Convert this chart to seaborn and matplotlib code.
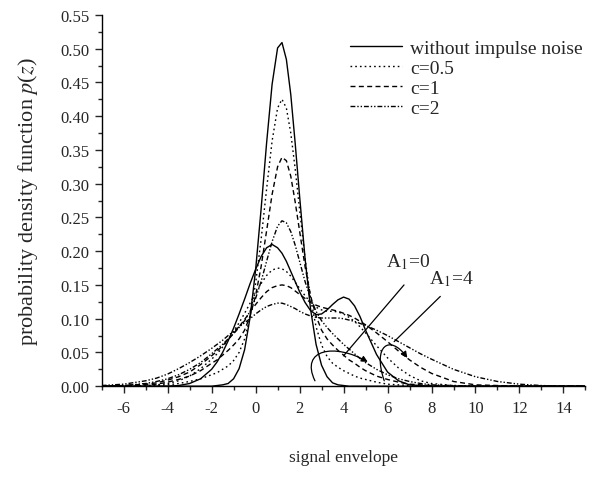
import matplotlib
matplotlib.use("Agg")
import matplotlib.pyplot as plt
import matplotlib.ticker as mticker
from matplotlib.patches import FancyArrowPatch
from matplotlib.path import Path
import seaborn as sns

sns.set_style("ticks")
plt.rcParams["font.family"] = ["Liberation Serif", "DejaVu Serif"]
plt.rcParams["mathtext.fontset"] = "stix"
plt.rcParams["axes.unicode_minus"] = False

# signal envelope grid
z = [-7, -6, -5, -4.5, -4, -3.5, -3, -2.5, -2, -1.75, -1.5, -1.25, -1, -0.75,
     -0.5, -0.25, 0, 0.25, 0.5, 0.75, 1, 1.2, 1.4, 1.6, 1.8, 2, 2.25, 2.5,
     2.75, 3, 3.25, 3.5, 3.75, 4, 4.25, 4.5, 4.75, 5, 5.5, 6, 6.5, 7, 7.5, 8,
     9, 10, 11, 12, 13, 14, 15]

# A1 = 0 family
a0_clean = [0, 0, 0, 0, 0, 0, 0, 0, 0, 0.001, 0.002, 0.004, 0.011, 0.026,
            0.054, 0.102, 0.172, 0.262, 0.360, 0.447, 0.501, 0.509, 0.484,
            0.432, 0.360, 0.282, 0.189, 0.114, 0.062, 0.031, 0.014, 0.005,
            0.002, 0.001, 0, 0, 0, 0, 0, 0, 0, 0, 0, 0, 0, 0, 0, 0, 0, 0, 0]
a0_c05 = [0, 0, 0, 0.001, 0.002, 0.004, 0.007, 0.011, 0.017, 0.020, 0.025,
          0.030, 0.038, 0.050, 0.070, 0.102, 0.152, 0.217, 0.292, 0.363,
          0.412, 0.425, 0.412, 0.375, 0.322, 0.262, 0.189, 0.130, 0.088,
          0.061, 0.044, 0.034, 0.028, 0.023, 0.019, 0.015, 0.012, 0.010,
          0.006, 0.003, 0.002, 0.001, 0, 0, 0, 0, 0, 0, 0, 0, 0]
a0_c1 = [0, 0, 0.002, 0.003, 0.006, 0.010, 0.015, 0.023, 0.034, 0.039, 0.046,
         0.053, 0.061, 0.070, 0.083, 0.104, 0.134, 0.177, 0.230, 0.284,
         0.325, 0.339, 0.334, 0.311, 0.273, 0.230, 0.177, 0.134, 0.104,
         0.083, 0.070, 0.061, 0.053, 0.046, 0.039, 0.034, 0.028, 0.023,
         0.015, 0.010, 0.006, 0.003, 0.002, 0.001, 0, 0, 0, 0, 0, 0, 0]
a0_c2 = [0, 0.001, 0.004, 0.007, 0.011, 0.017, 0.025, 0.035, 0.048, 0.055,
         0.062, 0.070, 0.078, 0.087, 0.097, 0.111, 0.130, 0.155, 0.185,
         0.214, 0.237, 0.245, 0.242, 0.229, 0.209, 0.185, 0.155, 0.130,
         0.111, 0.097, 0.087, 0.078, 0.070, 0.062, 0.055, 0.048, 0.041,
         0.035, 0.025, 0.017, 0.011, 0.007, 0.004, 0.002, 0.001, 0, 0, 0, 0,
         0, 0]

# A1 = 4 family
a4_clean = [0, 0, 0, 0, 0, 0.001, 0.004, 0.011, 0.025, 0.036, 0.050, 0.067,
            0.086, 0.107, 0.129, 0.152, 0.173, 0.192, 0.205, 0.210, 0.205,
            0.197, 0.185, 0.170, 0.155, 0.140, 0.124, 0.112, 0.106, 0.107,
            0.113, 0.121, 0.128, 0.132, 0.129, 0.119, 0.103, 0.083, 0.047,
            0.021, 0.008, 0.002, 0.001, 0, 0, 0, 0, 0, 0, 0, 0]
a4_c05 = [0, 0, 0.001, 0.002, 0.004, 0.008, 0.015, 0.026, 0.040, 0.048, 0.058,
          0.069, 0.081, 0.094, 0.108, 0.123, 0.138, 0.152, 0.164, 0.172,
          0.175, 0.174, 0.170, 0.163, 0.154, 0.145, 0.134, 0.124, 0.117,
          0.113, 0.111, 0.111, 0.110, 0.107, 0.102, 0.096, 0.088, 0.079,
          0.060, 0.042, 0.027, 0.016, 0.008, 0.004, 0.001, 0, 0, 0, 0, 0, 0]
a4_c1 = [0, 0.001, 0.003, 0.005, 0.009, 0.014, 0.021, 0.032, 0.045, 0.052,
         0.060, 0.069, 0.078, 0.088, 0.099, 0.110, 0.121, 0.131, 0.140, 0.146,
         0.149, 0.150, 0.149, 0.146, 0.141, 0.136, 0.130, 0.124, 0.120,
         0.117, 0.115, 0.113, 0.111, 0.108, 0.105, 0.101, 0.096, 0.091,
         0.079, 0.066, 0.052, 0.039, 0.028, 0.019, 0.007, 0.002, 0.001, 0, 0,
         0, 0]
a4_c2 = [0.001, 0.003, 0.008, 0.012, 0.018, 0.026, 0.035, 0.045, 0.056, 0.062,
         0.068, 0.075, 0.081, 0.088, 0.094, 0.100, 0.107, 0.113, 0.118, 0.121,
         0.123, 0.123, 0.121, 0.118, 0.115, 0.111, 0.107, 0.104, 0.102,
         0.101, 0.101, 0.101, 0.101, 0.100, 0.098, 0.096, 0.093, 0.090,
         0.083, 0.075, 0.066, 0.057, 0.048, 0.040, 0.025, 0.014, 0.007,
         0.003, 0.001, 0, 0]

labels = ["without impulse noise", "c=0.5", "c=1", "c=2"]
styles = ["-", (0, (1.2, 2.2)), (0, (3.6, 2.4)), (0, (3.5, 1.4, 1, 1.4, 1, 1.4))]

fig = plt.figure(figsize=(5.98, 4.81), dpi=100)
ax = fig.add_axes([0.170, 0.195, 0.809, 0.772])

for ys, ls in zip([a0_clean, a0_c05, a0_c1, a0_c2], styles):
    sns.lineplot(x=z, y=ys, ax=ax, color="black", lw=1.0, linestyle=ls,
                 estimator=None, sort=False)
for ys, ls in zip([a4_clean, a4_c05, a4_c1, a4_c2], styles):
    sns.lineplot(x=z, y=ys, ax=ax, color="black", lw=1.0, linestyle=ls,
                 estimator=None, sort=False)

ax.set_xlim(-7, 15)
ax.set_ylim(0, 0.55)
ax.xaxis.set_minor_locator(mticker.MultipleLocator(1))
ax.yaxis.set_major_locator(mticker.MultipleLocator(0.05))
ax.yaxis.set_minor_locator(mticker.MultipleLocator(0.025))
ax.yaxis.set_major_formatter(mticker.FormatStrFormatter("%.2f"))
ax.set_xticks(list(range(-6, 15, 2)))
ax.tick_params(which="major", direction="out", length=5, width=1, labelsize=12)
ax.tick_params(axis="x", which="major", pad=5)
ax.tick_params(which="minor", direction="out", length=3, width=1)
for s in ["top", "right"]:
    ax.spines[s].set_visible(False)
for s in ["left", "bottom"]:
    ax.spines[s].set_linewidth(1.0)
    ax.spines[s].set_color("black")

ax.set_xlabel("signal envelope", fontsize=12.5, labelpad=24)
ax.set_ylabel("probability density function $p$($z$)", fontsize=16, labelpad=15)

ax.legend(ax.lines[:4], labels, loc="upper left", bbox_to_anchor=(0.497, 0.955),
          frameon=False, fontsize=14, handlelength=2.7, handletextpad=0.4,
          labelspacing=0.12, borderaxespad=0)

# annotations: family labels with curved arrows
ax.text(5.95, 0.185, "A$_1$=0", fontsize=14, va="center", ha="left")
ax.text(7.9, 0.16, "A$_1$=4", fontsize=14, va="center", ha="left")
ax.plot([6.75, 4.0], [0.150, 0.045], color="black", lw=0.9)
ax.plot([8.4, 6.3], [0.133, 0.066], color="black", lw=0.9)

arc0 = Path([(2.7, 0.008), (2.0, 0.055), (3.6, 0.064), (5.1, 0.036)],
            [Path.MOVETO, Path.CURVE4, Path.CURVE4, Path.CURVE4])
arc4 = Path([(5.85, 0.008), (5.3, 0.06), (6.1, 0.078), (6.9, 0.042)],
            [Path.MOVETO, Path.CURVE4, Path.CURVE4, Path.CURVE4])
for p in (arc0, arc4):
    ax.add_patch(FancyArrowPatch(path=p, arrowstyle="-|>", mutation_scale=9,
                                 color="black", lw=0.9))

fig.savefig("out.png", dpi=100)
